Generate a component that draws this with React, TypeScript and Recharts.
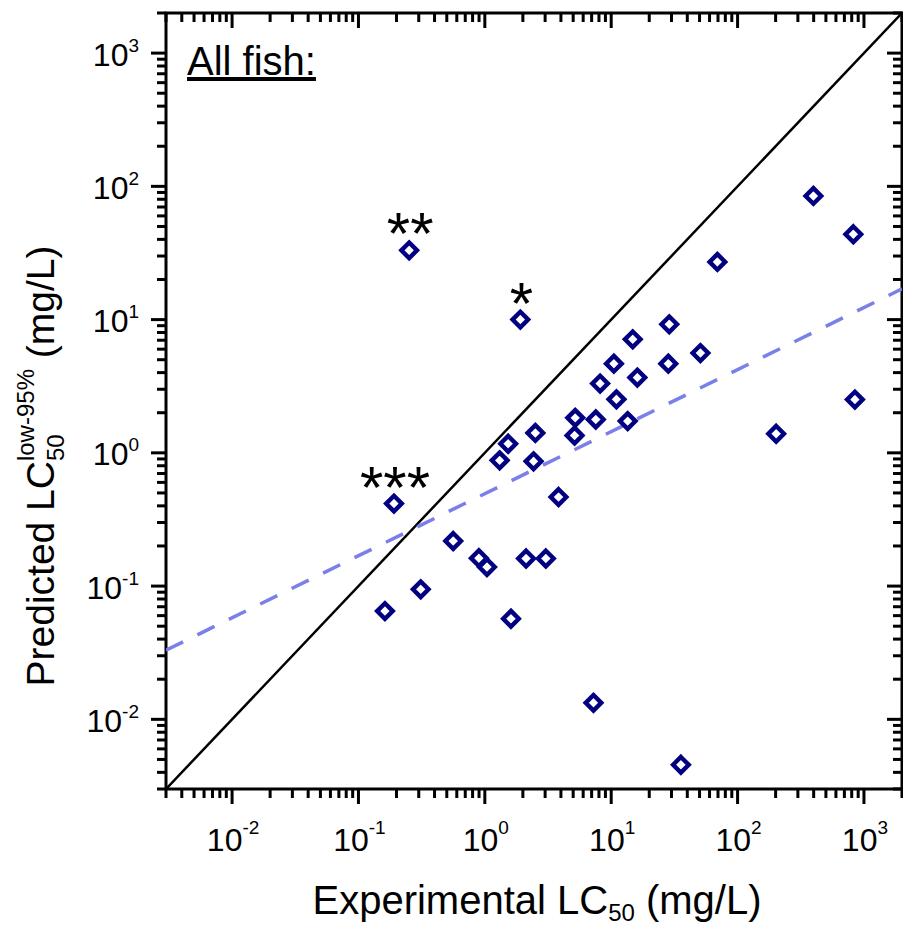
import React from "react";
import {
  ScatterChart,
  Scatter,
  XAxis,
  YAxis,
  ReferenceLine,
  ReferenceArea,
} from "recharts";

// Experimental vs predicted LC50 (mg/L). The first three points carry the asterisk notes.
const experimental = [
  0.252, 1.91, 0.191, 0.162, 0.311, 0.562, 0.897, 1.04, 1.61, 2.12, 3.04, 1.31,
  1.53, 2.43, 2.51, 3.83, 5.13, 5.19, 7.55, 8.17, 10.5, 11.0, 13.5, 14.8, 16.1,
  28.8, 28.3, 50.8, 69.2, 7.24, 35.6, 202, 398, 824, 848,
];
const predicted = [
  33.1, 10.0, 0.416, 0.0649, 0.0945, 0.218, 0.162, 0.139, 0.0569, 0.161, 0.161,
  0.878, 1.17, 0.863, 1.41, 0.466, 1.35, 1.83, 1.78, 3.31, 4.67, 2.52, 1.73,
  7.11, 3.67, 9.22, 4.67, 5.61, 27.1, 0.0133, 0.00456, 1.39, 84.7, 43.7, 2.51,
];
const marks = ["**", "*", "***"];

const identityLine = [
  { x: 0.003, y: 0.003 },
  { x: 2000, y: 2000 },
];
const fitLine = [
  { x: 0.003, y: 0.033 },
  { x: 2000, y: 17 },
];

const axisDomain: [number, number] = [0.003, 2000];
const majorTicks = [0.01, 0.1, 1, 10, 100, 1000];
const majorLabels = ["-2", "-1", "0", "1", "2", "3"];
const decades = [0.001, 0.01, 0.1, 1, 10, 100, 1000];
const minorSteps = [2, 3, 4, 5, 6, 7, 8, 9];

const FONT = "'Liberation Sans', Arial, Helvetica, sans-serif";
const CHART_W = 903;
const CHART_H = 926;
const MARGIN = { top: 13, right: 1, bottom: 0, left: 0 };
const Y_AXIS_W = 166;
const X_AXIS_H = 137;
const PLOT_TOP = MARGIN.top;
const PLOT_RIGHT = CHART_W - MARGIN.right;
const MAJOR_LEN = 15;
const MINOR_LEN = 9;
const NAVY = "#000080";
const FIT_COLOR = "#7b7fe8";

const minorTicks = decades
  .flatMap((d) => minorSteps.map((s) => d * s))
  .filter((v) => v >= axisDomain[0] * 0.999999 && v <= axisDomain[1] * 1.000001);
const allTicks = [...majorTicks, ...minorTicks].sort((a, b) => a - b);

const points = experimental.map((x, i) => ({
  x,
  y: predicted[i],
  mark: marks[i] ?? "",
}));

function majorIndex(v: number) {
  return majorTicks.findIndex((t) => Math.abs(t - v) / t < 1e-6);
}

function BottomTick(props: any) {
  const { x, y, payload } = props;
  const idx = majorIndex(payload.value);
  const len = idx >= 0 ? MAJOR_LEN : MINOR_LEN;
  return (
    <g>
      <line x1={x} x2={x} y1={y} y2={y + len} stroke="#000" strokeWidth={3} />
      <line x1={x} x2={x} y1={PLOT_TOP} y2={PLOT_TOP + len} stroke="#000" strokeWidth={3} />
      {idx >= 0 && (
        <text x={x + 1} y={y + 62} textAnchor="middle" fontFamily={FONT} fontSize={32} fill="#000">
          10
          <tspan dy={-17} fontSize={19}>
            {majorLabels[idx]}
          </tspan>
        </text>
      )}
    </g>
  );
}

function LeftTick(props: any) {
  const { x, y, payload } = props;
  const idx = majorIndex(payload.value);
  const len = idx >= 0 ? MAJOR_LEN : MINOR_LEN;
  return (
    <g>
      <line x1={x - len} x2={x} y1={y} y2={y} stroke="#000" strokeWidth={3} />
      <line x1={PLOT_RIGHT - len} x2={PLOT_RIGHT} y1={y} y2={y} stroke="#000" strokeWidth={3} />
      {idx >= 0 && (
        <text x={x - 27} y={y + 12.5} textAnchor="end" fontFamily={FONT} fontSize={32} fill="#000">
          10
          <tspan dy={-14} fontSize={19}>
            {majorLabels[idx]}
          </tspan>
        </text>
      )}
    </g>
  );
}

function Diamond(props: any) {
  const { cx, cy, payload } = props;
  const r = 7.8;
  return (
    <g>
      <path
        d={`M${cx},${cy - r}L${cx + r},${cy}L${cx},${cy + r}L${cx - r},${cy}Z`}
        fill="none"
        stroke={NAVY}
        strokeWidth={4.4}
      />
      {payload.mark && (
        <text x={cx + 1} y={cy + 4} textAnchor="middle" fontFamily={FONT} fontSize={60} fill="#000">
          {payload.mark}
        </text>
      )}
    </g>
  );
}

export default function App() {
  return (
    <div
      style={{
        position: "absolute",
        left: 0,
        top: 0,
        width: CHART_W,
        height: CHART_H,
        background: "#fff",
        overflow: "hidden",
      }}
    >
      <ScatterChart width={CHART_W} height={CHART_H} margin={MARGIN}>
        <XAxis
          dataKey="x"
          type="number"
          scale="log"
          domain={axisDomain}
          allowDataOverflow
          ticks={allTicks}
          interval={0}
          height={X_AXIS_H}
          axisLine={false}
          tickLine={false}
          tickSize={0}
          tickMargin={0}
          tick={<BottomTick />}
        />
        <YAxis
          dataKey="y"
          type="number"
          scale="log"
          domain={axisDomain}
          allowDataOverflow
          ticks={allTicks}
          interval={0}
          width={Y_AXIS_W}
          axisLine={false}
          tickLine={false}
          tickSize={0}
          tickMargin={0}
          tick={<LeftTick />}
        />
        <ReferenceArea
          x1={axisDomain[0]}
          x2={axisDomain[1]}
          y1={axisDomain[0]}
          y2={axisDomain[1]}
          fill="none"
          fillOpacity={0}
          stroke="#000"
          strokeWidth={3}
          ifOverflow="visible"
        />
        <ReferenceLine segment={identityLine} stroke="#000" strokeWidth={2.5} ifOverflow="hidden" />
        <ReferenceLine
          segment={fitLine}
          stroke={FIT_COLOR}
          strokeWidth={3.5}
          strokeDasharray="19 16"
          ifOverflow="hidden"
        />
        <Scatter data={points} shape={<Diamond />} isAnimationActive={false} />
      </ScatterChart>
      <svg
        width={CHART_W}
        height={CHART_H}
        style={{ position: "absolute", left: 0, top: 0, pointerEvents: "none" }}
      >
        <text x={187} y={75} fontFamily={FONT} fontSize={40} fill="#000" textDecoration="underline">
          All fish:
        </text>
        <text x={537} y={914} textAnchor="middle" fontFamily={FONT} fontSize={40} fill="#000">
          Experimental LC
          <tspan dy={7} fontSize={24}>
            50
          </tspan>
          <tspan dy={-7}>{" (mg/L)"}</tspan>
        </text>
        <text
          x={54}
          y={466}
          transform="rotate(-90 54 466)"
          textAnchor="middle"
          fontFamily={FONT}
          fontSize={39}
          fill="#000"
        >
          Predicted LC
          <tspan dy={10} fontSize={24}>
            50
          </tspan>
          <tspan dx={-26.7} dy={-30} fontSize={24}>
            low-95%
          </tspan>
          <tspan dy={20}>{" (mg/L)"}</tspan>
        </text>
      </svg>
    </div>
  );
}
